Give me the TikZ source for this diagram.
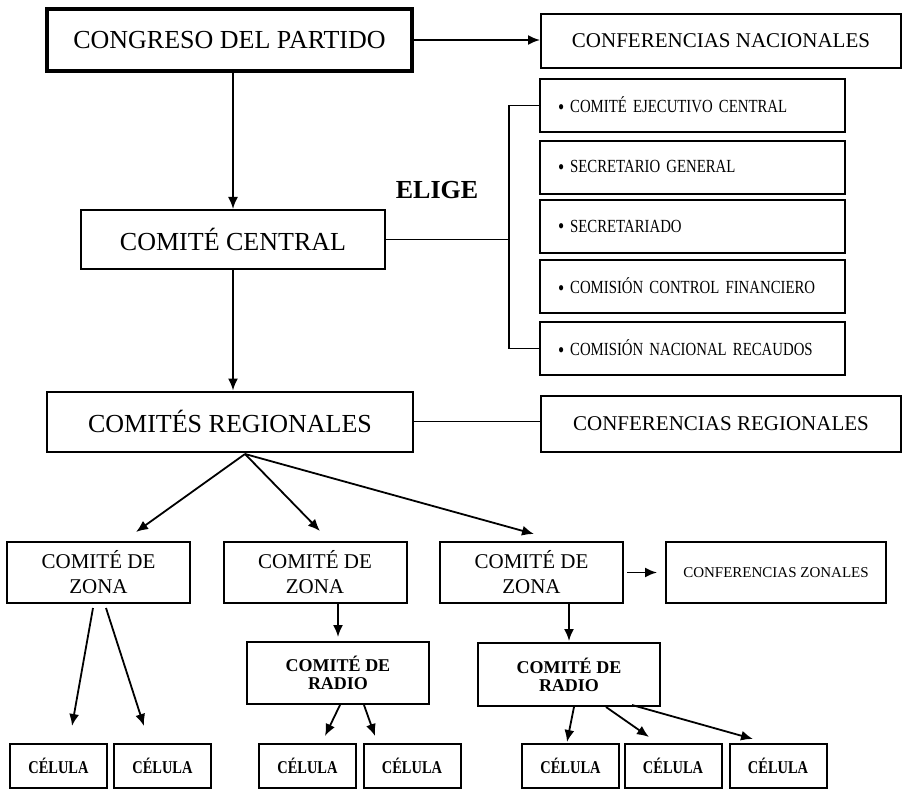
\documentclass[tikz,border=0pt]{standalone}
\usepackage{fontspec}
\setmainfont{Liberation Serif}
\newfontfamily\narrowf[FakeStretch=0.8]{Liberation Serif}
\usetikzlibrary{arrows.meta}

\begin{document}
\begin{tikzpicture}[x=1pt,y=-1pt,
            >={Latex[length=12pt,width=10pt]},
            line width=1.8pt,
            box/.style={draw,line width=2pt,inner sep=0pt,align=center},
            big/.style={box,font=\fontsize{26}{30}\selectfont},
            conf/.style={box,minimum width=360pt,minimum height=54pt,
                         font=\fontsize{21}{25}\selectfont},
            cargo/.style={box,minimum width=305pt,minimum height=53pt,
                          text width=269pt,align=left,
                          font=\narrowf\fontsize{18.5}{18}\selectfont},
            zona/.style={box,minimum width=183pt,minimum height=61pt,
                         font=\fontsize{21}{25}\selectfont},
            radio/.style={box,minimum width=182pt,minimum height=62pt,
                          font=\bfseries\fontsize{18}{18}\selectfont},
            cel/.style={box,minimum width=97pt,minimum height=44pt,
                        font=\narrowf\bfseries\fontsize{18}{18}\selectfont}]

        \useasboundingbox[fill=white] (0,0) rectangle (906,789);

        % nivel nacional
        \node[big,line width=4.5pt,minimum width=365pt,minimum height=62pt]
                                (congreso)   at (229.5,40)  {CONGRESO DEL PARTIDO};
        \node[conf]             (confnac)    at (721,41)    {CONFERENCIAS NACIONALES};
        \node[big,minimum width=304pt,minimum height=59pt]
                                (central)    at (233,239.5) {COMITÉ CENTRAL};
        \node[font=\bfseries\fontsize{26}{30}\selectfont]
                                (elige)      at (437,190)   {ELIGE};

        \newcommand\punto{\raisebox{-1.5pt}{\fontsize{22}{18}\selectfont\textbullet}\hspace{6pt}}
        \node[cargo] (cec)  at (692.5,105.5) {\punto COMITÉ EJECUTIVO CENTRAL};
        \node[cargo] (sg)   at (692.5,167.5) {\punto SECRETARIO GENERAL};
        \node[cargo] (secr) at (692.5,227)   {\punto SECRETARIADO};
        \node[cargo] (ccf)  at (692.5,286.5) {\punto COMISIÓN CONTROL FINANCIERO};
        \node[cargo] (cnr)  at (692.5,348.5) {\punto COMISIÓN NACIONAL RECAUDOS};
        \coordinate (brk) at (509,239.5);

        % nivel regional
        \node[big,minimum width=366pt,minimum height=60pt]
                                (regionales) at (230,421.5) {COMITÉS REGIONALES};
        \node[conf,minimum height=56pt]
                                (confreg)    at (721,424)   {CONFERENCIAS REGIONALES};
        \coordinate (fan) at (245,454);

        % zonas y radios
        \node[zona] (zona1) at (98.5,572.5)  {COMITÉ DE\\ZONA};
        \node[zona] (zona2) at (315,572.5)   {COMITÉ DE\\ZONA};
        \node[zona] (zona3) at (531.5,572.5) {COMITÉ DE\\ZONA};
        \node[box,minimum width=220pt,minimum height=61pt,font=\fontsize{15}{18}\selectfont]
                    (confzon) at (776,572.5) {CONFERENCIAS ZONALES};
        \node[radio]                   (radio1) at (338,673)   {COMITÉ DE\\RADIO};
        \node[radio,minimum height=63pt] (radio2) at (569,674.5) {COMITÉ DE\\RADIO};

        % celulas
        \node[cel] (cel1) at (58.5,766)  {CÉLULA};
        \node[cel] (cel2) at (162.5,766) {CÉLULA};
        \node[cel] (cel3) at (307.5,766) {CÉLULA};
        \node[cel] (cel4) at (412,766)   {CÉLULA};
        \node[cel] (cel5) at (570.5,766) {CÉLULA};
        \node[cel] (cel6) at (673,766)   {CÉLULA};
        \node[cel] (cel7) at (778,766)   {CÉLULA};

        \path[->] (congreso.east) edge (congreso.east -| confnac.west)
                  (congreso.south -| central.north) edge (central.north)
                  (central.south) edge (central.south |- regionales.north)
                  (fan) edge ([xshift=37.5pt,yshift=9pt]zona1.north)
                  (fan) edge ([xshift=5pt,yshift=10pt]zona2.north)
                  (fan) edge ([xshift=2.5pt,yshift=7pt]zona3.north)
                  (zona3.east) edge [shorten <=3pt,shorten >=8pt] (zona3.east -| confzon.west)
                  ([xshift=-5.5pt,yshift=-4pt]zona1.south) edge ([xshift=13.5pt,yshift=17pt]cel1.north)
                  ([xshift=7.5pt,yshift=-4pt]zona1.south)  edge ([xshift=-18.5pt,yshift=17pt]cel2.north)
                  (zona2.south -| radio1.north) edge [shorten >=4pt] (radio1.north)
                  (zona3.south -| radio2.north) edge [shorten >=1pt] (radio2.north)
                  ([xshift=2pt]radio1.south)  edge ([xshift=17.5pt,yshift=7pt]cel3.north)
                  ([xshift=26pt]radio1.south) edge ([xshift=-37pt,yshift=7pt]cel4.north)
                  ([xshift=5pt]radio2.south)  edge ([xshift=-3.5pt,yshift=1pt]cel5.north)
                  ([xshift=37pt]radio2.south) edge ([xshift=-24pt,yshift=6pt]cel6.north)
                  ([xshift=63pt,yshift=2pt]radio2.south) edge ([xshift=-25pt,yshift=4pt]cel7.north);

        \draw (central.east) -- (brk);
        \draw (cec.west) -| (brk) |- (cnr.west);
        \draw (regionales.east) -- (regionales.east -| confreg.west);

    \end{tikzpicture}
\end{document}
